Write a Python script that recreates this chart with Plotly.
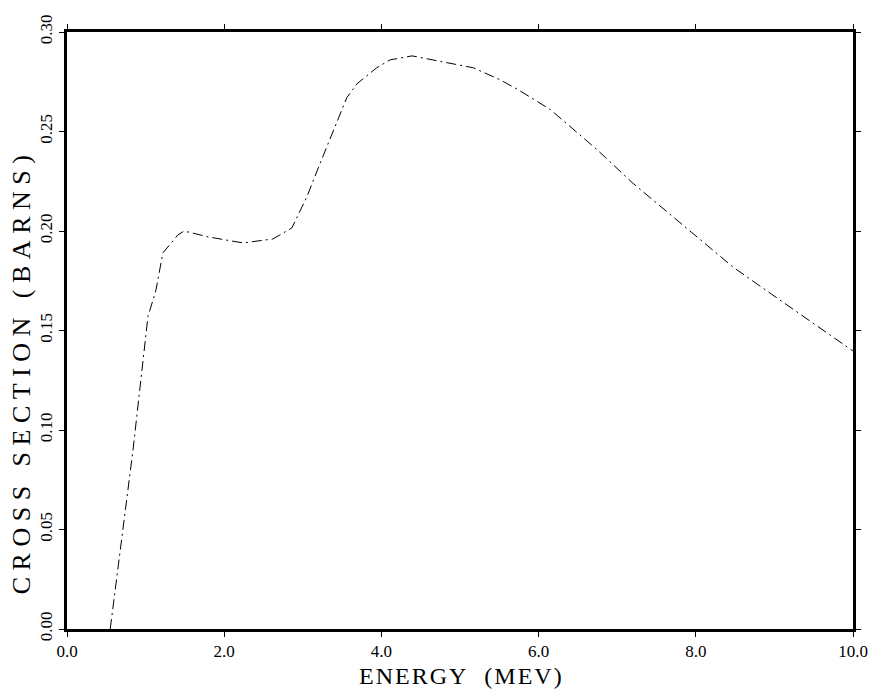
import plotly.graph_objects as go

energy = [0.55, 0.84, 1.03, 1.13, 1.22, 1.41, 1.49, 1.8, 2.24, 2.62, 2.86, 3.05, 3.22, 3.56, 3.69,
          3.94, 4.11, 4.39, 4.78, 5.17, 5.51, 5.74, 6.15, 6.74, 7.2, 7.76, 8.47, 8.9, 10.0]
xsec = [0.0, 0.090, 0.157, 0.170, 0.189, 0.198, 0.200, 0.197, 0.194, 0.196, 0.2015, 0.217, 0.234,
        0.267, 0.274, 0.282, 0.286, 0.288, 0.285, 0.282, 0.276, 0.271, 0.261, 0.241, 0.224,
        0.2055, 0.182, 0.170, 0.1397]

x_ticks = [0, 2, 4, 6, 8, 10]
x_labels = ["0.0", "2.0", "4.0", "6.0", "8.0", "10.0"]
y_ticks = [0, 0.05, 0.10, 0.15, 0.20, 0.25, 0.30]
y_labels = ["0.00", "0.05", "0.10", "0.15", "0.20", "0.25", "0.30"]
x_title = "ENERGY  (MEV)"
y_title = "CROSS SECTION (BARNS)"


def spaced(text, sep):
    return sep.join(list(text))


fig = go.Figure()
fig.add_trace(go.Scatter(x=energy, y=xsec, mode="lines",
                         line=dict(color="black", width=1, dash="10px,4px,2px,4px"),
                         showlegend=False))

font = "Liberation Serif, Times New Roman, serif"
fig.update_layout(
    width=880, height=690,
    margin=dict(l=67, r=27, t=32, b=61),
    paper_bgcolor="white", plot_bgcolor="white",
    font=dict(family=font, color="black"),
    xaxis=dict(range=[0, 10], tickvals=x_ticks, ticktext=x_labels,
               showgrid=False, zeroline=False, showline=True, linecolor="black", linewidth=3,
               mirror="ticks", ticks="outside", ticklen=5, tickcolor="black", tickwidth=1,
               tickfont=dict(size=17, family=font)),
    yaxis=dict(range=[0, 0.30], tickvals=y_ticks, ticktext=y_labels, tickangle=-90,
               showgrid=False, zeroline=False, showline=True, linecolor="black", linewidth=3,
               mirror="ticks", ticks="outside", ticklen=5, tickcolor="black", tickwidth=1,
               tickfont=dict(size=17, family=font)),
    annotations=[
        dict(text=spaced(x_title, "\u200a"), xref="paper", yref="paper", x=0.5, y=-0.0795,
             xanchor="center", yanchor="middle", showarrow=False,
             font=dict(size=24, family=font, color="black")),
        dict(text=spaced(y_title, "\u2005"), xref="paper", yref="paper", x=-0.0585, y=0.425,
             xanchor="center", yanchor="middle", showarrow=False, textangle=-90,
             font=dict(size=26, family=font, color="black")),
    ],
)

fig.write_html("out.html")
